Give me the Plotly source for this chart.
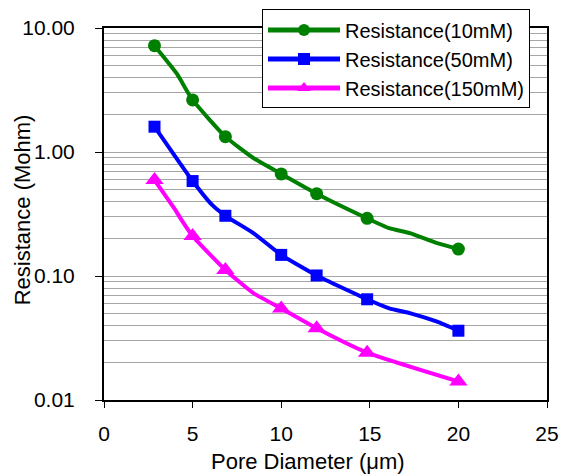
import plotly.graph_objects as go

# Measured points (markers)
x_meas = [2.85, 5, 6.85, 10, 12, 14.85, 20]
r10_meas = [7.2, 2.63, 1.33, 0.666, 0.461, 0.292, 0.165]
r50_meas = [1.6, 0.583, 0.306, 0.148, 0.101, 0.0649, 0.0362]
r150_meas = [0.594, 0.21, 0.112, 0.0548, 0.0379, 0.0241, 0.0141]

# Curve paths (lines)
x_curve10 = [2.85, 4.1, 5, 6.85, 8.45, 10, 12, 14.85, 16.1, 17.3, 18.8, 20]
r10_curve = [7.2, 4.3, 2.63, 1.33, 0.89, 0.666, 0.461, 0.292, 0.243, 0.221, 0.184, 0.165]
x_curve50 = [2.85, 5, 6.1, 6.85, 8.45, 10, 12, 14.85, 16.1, 17.3, 18.8, 20]
r50_curve = [1.6, 0.583, 0.374, 0.306, 0.221, 0.148, 0.101, 0.0649, 0.0548, 0.050, 0.0428, 0.0362]
x_curve150 = [2.85, 3.9, 4.5, 5, 6.0, 6.85, 8.45, 10, 12, 14.85, 20]
r150_curve = [0.594, 0.362, 0.266, 0.21, 0.148, 0.112, 0.0725, 0.0548, 0.0379, 0.0241, 0.0141]

names = ["Resistance(10mM)", "Resistance(50mM)", "Resistance(150mM)"]
x_ticks = [0, 5, 10, 15, 20, 25]
y_ticks = [0.01, 0.1, 1, 10]
y_ticktext = ["0.01", "0.10", "1.00", "10.00"]
x_title = "Pore Diameter (\u03bcm)"
y_title = "Resistance (Mohm)"

colors = ["#008000", "#0000FF", "#FF00FF"]
symbols = ["circle", "square", "triangle-up"]
msizes = [13, 12, 16]

curves = [(x_curve10, r10_curve), (x_curve50, r50_curve), (x_curve150, r150_curve)]
meas = [r10_meas, r50_meas, r150_meas]

fig = go.Figure()
for i in range(3):
    fig.add_trace(go.Scatter(x=curves[i][0], y=curves[i][1], mode="lines",
                             line=dict(color=colors[i], width=4, shape="spline", smoothing=0.5),
                             showlegend=False, hoverinfo="skip"))
    fig.add_trace(go.Scatter(x=x_meas, y=meas[i], mode="markers",
                             marker=dict(color=colors[i], symbol=symbols[i], size=msizes[i]),
                             showlegend=False))
for i in range(3):
    fig.add_trace(go.Scatter(x=[None], y=[None], mode="lines+markers", name=names[i],
                             line=dict(color=colors[i], width=4),
                             marker=dict(color=colors[i], symbol=symbols[i], size=msizes[i])))

minor_vals = [m * 10 ** e for e in (-2, -1, 0) for m in range(2, 10)]

font_family = "Arial, Liberation Sans, sans-serif"
fig.update_layout(
    width=561, height=476,
    margin=dict(l=104, r=14, t=28, b=76, autoexpand=False),
    paper_bgcolor="white", plot_bgcolor="white",
    font=dict(family=font_family, size=21, color="black"),
    showlegend=True,
    legend=dict(x=(262 - 104) / 443, y=1.05, xanchor="left", yanchor="top",
                bgcolor="white", bordercolor="black", borderwidth=1,
                font=dict(size=20), itemwidth=72, tracegroupgap=0,
                itemsizing="constant"),
    xaxis=dict(range=[0, 25], tickvals=x_ticks, ticks="outside", ticklen=6,
               tickcolor="black", showline=True, linecolor="black", linewidth=2,
               mirror=True, showgrid=False, zeroline=False, automargin=False,
               ticklabelstandoff=8),
    yaxis=dict(type="log", range=[-2, 1], tickvals=y_ticks, ticktext=y_ticktext,
               ticks="outside", ticklen=7, tickcolor="black",
               showline=True, linecolor="black", linewidth=2, mirror=True,
               showgrid=True, gridcolor="#a6a6a6", gridwidth=1, zeroline=False,
               automargin=False, ticklabelstandoff=16,
               minor=dict(tickvals=minor_vals, showgrid=True, gridcolor="#a6a6a6",
                          gridwidth=1, ticks="")),
    annotations=[
        dict(text=y_title, textangle=-90, xref="paper", yref="paper",
             x=(22 - 104) / 443, y=0.51, xanchor="center", yanchor="middle",
             showarrow=False, font=dict(size=22)),
        dict(text=x_title, xref="paper", yref="paper",
             x=(308 - 104) / 443, y=(400 - 461) / 372, xanchor="center", yanchor="middle",
             showarrow=False, font=dict(size=22)),
    ],
)

fig.write_html("out.html", config={"displayModeBar": False},
               post_script="document.body.style.margin='0';")
